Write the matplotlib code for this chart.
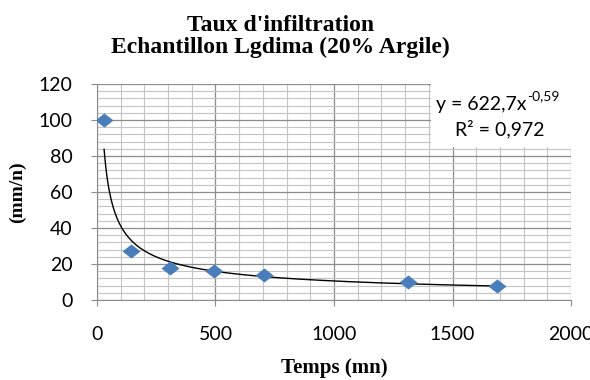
import numpy as np
import matplotlib
matplotlib.use("Agg")
import matplotlib.pyplot as plt
from matplotlib.patches import Rectangle
from matplotlib.ticker import MultipleLocator

# ===== データ =====
temps = [30, 143, 308, 494, 705, 1312, 1688]
taux = [100, 27, 18, 16, 14, 10, 8]
fit_a = 622.7
fit_b = -0.59

title = "Taux d'infiltration\nEchantillon Lgdima (20% Argile)"
x_label = "Temps (mn)"
y_label = "(mm/n)"
eq_main = "y = 622,7x"
eq_exp = "-0,59"
r2_text = "R² = 0,972"

serif = ["Liberation Serif", "DejaVu Serif"]
sans = ["Lato", "DejaVu Sans"]

fig = plt.figure(figsize=(5.9, 3.8), dpi=100)
ax = fig.add_axes([0.1644, 0.2105, 0.8034, 0.5685])

# 近似曲線
xs = np.linspace(temps[0], temps[-1], 400)
ax.plot(xs, fit_a * xs ** fit_b, color="black", lw=1.0, zorder=3)

# 実測値（ひし形）
diamond = [(-1, 0), (0, 0.78), (1, 0), (0, -0.78), (-1, 0)]
ax.plot(temps, taux, linestyle="none", marker=diamond, markersize=13,
        color="#4a7ebb", markeredgewidth=0, zorder=4)

ax.set_xlim(0, 2000)
ax.set_ylim(0, 120)
ax.xaxis.set_major_locator(MultipleLocator(500))
ax.xaxis.set_minor_locator(MultipleLocator(100))
ax.yaxis.set_major_locator(MultipleLocator(20))
ax.yaxis.set_minor_locator(MultipleLocator(4))

ax.grid(which="major", color="#8c8c8c", lw=0.9, zorder=1)
ax.grid(which="minor", color="#c4c4c4", lw=0.8, zorder=0)
ax.set_axisbelow(True)

for side in ["top", "right"]:
    ax.spines[side].set_visible(False)
ax.spines["left"].set_color("#8c8c8c")
ax.spines["bottom"].set_color("#8c8c8c")

ax.tick_params(which="major", length=4.5, color="#8c8c8c", labelsize=14)
ax.tick_params(axis="x", which="major", pad=14)
ax.tick_params(axis="y", which="major", pad=13)
ax.tick_params(which="minor", length=0)
for lab in ax.get_xticklabels() + ax.get_yticklabels():
    lab.set_family(sans)

# 式ボックス
ax.add_patch(Rectangle((0.705, 0.71), 0.295, 0.29, transform=ax.transAxes,
                       facecolor="white", edgecolor="none", zorder=5))
ax.text(0.906, 0.88, eq_main, transform=ax.transAxes, ha="right", va="baseline",
        fontsize=14, family=sans, zorder=6)
ax.text(0.907, 0.925, eq_exp, transform=ax.transAxes, ha="left", va="baseline",
        fontsize=10, family=sans, zorder=6)
ax.text(0.85, 0.76, r2_text, transform=ax.transAxes, ha="center", va="baseline",
        fontsize=14, family=sans, zorder=6)

fig.text(0.476, 0.903, title, ha="center", va="center", fontsize=17,
         fontweight="bold", family=serif, linespacing=1.05)
ax.set_xlabel(x_label, fontsize=15, fontweight="bold", family=serif, labelpad=11)
ax.set_ylabel(y_label, fontsize=14, fontweight="bold", family=serif, labelpad=9)

fig.savefig("out.png", dpi=100)
